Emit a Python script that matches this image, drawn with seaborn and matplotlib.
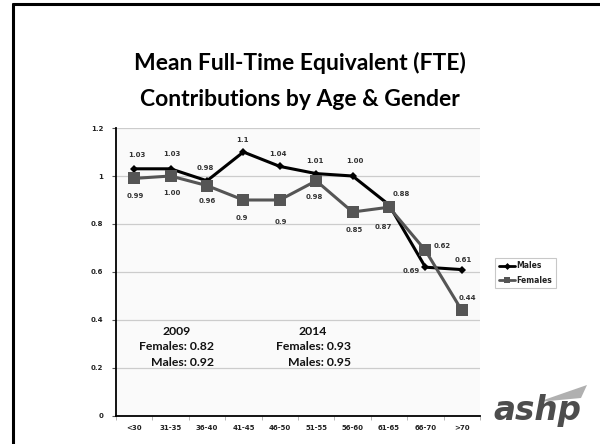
import matplotlib
matplotlib.use("Agg")
from matplotlib import pyplot as plt
from matplotlib.lines import Line2D
from matplotlib.patches import Polygon
import seaborn as sns
import pandas as pd

# data
age_groups = ["<30", "31-35", "36-40", "41-45", "46-50", "51-55", "56-60", "61-65", "66-70", ">70"]
males = [1.03, 1.03, 0.98, 1.10, 1.04, 1.01, 1.00, 0.88, 0.62, 0.61]
females = [0.99, 1.00, 0.96, 0.90, 0.90, 0.98, 0.85, 0.87, 0.69, 0.44]
male_labels = ["1.03", "1.03", "0.98", "1.1", "1.04", "1.01", "1.00", "0.88", "0.69", "0.61"]
female_labels = ["0.99", "1.00", "0.96", "0.9", "0.9", "0.98", "0.85", "0.87", "0.62", "0.44"]
title_lines = ["Mean Full-Time Equivalent (FTE)", "Contributions by Age & Gender"]
summary_2009 = ["2009", "Females: 0.82", "Males: 0.92"]
summary_2014 = ["2014", "Females: 0.93", "Males: 0.95"]

# label offsets (points), as placed in the original slide
male_off = [(2, 10), (1, 11), (-1, 9), (-1, 9), (-1, 9), (-1, 9), (2, 11), (9, 8), (-10, -3), (1, 7)]
female_off = [(1, -13), (1, -12), (0, -11), (-1, -13), (1, -16), (-1, -12), (1, -13), (-4, -14), (12, 3), (4, 9)]

df = pd.DataFrame({
    "age": age_groups * 2,
    "fte": males + females,
    "sex": ["Males"] * len(males) + ["Females"] * len(females),
})

sns.set_style("white")
fig = plt.figure(figsize=(6, 4.44), dpi=100)
ax = fig.add_axes([0.1933, 0.0631, 0.6067, 0.6486])
ax.set_facecolor("#fafafa")

sns.lineplot(data=df, x="age", y="fte", hue="sex", style="sex",
             palette={"Males": "#000000", "Females": "#555555"},
             markers={"Males": "D", "Females": "s"},
             dashes=False, linewidth=2.2, markeredgewidth=0,
             sort=False, ax=ax, legend=False)
for line, ms in zip(ax.lines, [4.5, 8]):
    line.set_markersize(ms)

ax.set_xlim(-0.5, len(age_groups) - 0.5)
ax.set_ylim(0, 1.2)
ax.set_yticks([0, 0.2, 0.4, 0.6, 0.8, 1.0, 1.2])
ax.set_yticklabels(["0", "0.2", "0.4", "0.6", "0.8", "1", "1.2"])
ax.set_xticks(range(len(age_groups)))
ax.set_xticklabels(age_groups)
ax.set_xticks([i + 0.5 for i in range(-1, len(age_groups))], minor=True)
ax.set_xlabel("")
ax.set_ylabel("")
ax.grid(axis="y", color="#cccccc", linewidth=0.9)
ax.set_axisbelow(True)
for s in ["top", "right"]:
    ax.spines[s].set_visible(False)
for s in ["left", "bottom"]:
    ax.spines[s].set_color("black")
    ax.spines[s].set_linewidth(1.3)
ax.tick_params(axis="y", left=True, length=3, width=0.8, color="#555555",
               labelsize=5, pad=6)
ax.tick_params(axis="x", which="major", bottom=False, labelsize=5, pad=3)
ax.tick_params(axis="x", which="minor", bottom=True, length=3, width=0.6, color="#aaaaaa")
for lab in ax.get_xticklabels() + ax.get_yticklabels():
    lab.set_fontweight("bold")
    lab.set_color("#222222")

for i, (v, t, off) in enumerate(zip(males, male_labels, male_off)):
    ax.annotate(t, (i, v), xytext=off, textcoords="offset points",
                ha="center", va="center", fontsize=5, fontweight="bold", color="#333333")
for i, (v, t, off) in enumerate(zip(females, female_labels, female_off)):
    ax.annotate(t, (i, v), xytext=off, textcoords="offset points",
                ha="center", va="center", fontsize=5, fontweight="bold", color="#333333")

# yearly summaries
for block, xr, xc in [(summary_2009, 214 / 600, 177 / 600), (summary_2014, 351 / 600, 313 / 600)]:
    fig.text(xc, 1 - 331 / 444, block[0], ha="center", va="center",
             fontsize=8.8, fontweight="bold", family="Lato", color="#111111")
    fig.text(xr, 1 - 346 / 444, block[1], ha="right", va="center",
             fontsize=8.8, fontweight="bold", family="Lato", color="#111111")
    fig.text(xr, 1 - 362 / 444, block[2], ha="right", va="center",
             fontsize=8.8, fontweight="bold", family="Lato", color="#111111")

# legend
handles = [Line2D([], [], color="#000000", lw=2, marker="D", ms=3.5, mew=0),
           Line2D([], [], color="#555555", lw=2, marker="s", ms=5, mew=0)]
leg = fig.legend(handles, ["Males", "Females"], loc="center left",
                 bbox_to_anchor=(491 / 600, 1 - 273 / 444), frameon=True,
                 fancybox=False, fontsize=5.5, handlelength=2.2, handletextpad=0.1,
                 borderpad=0.5, labelspacing=0.7)
leg.get_frame().set_edgecolor("#bbbbbb")
leg.get_frame().set_linewidth(0.8)
for t in leg.get_texts():
    t.set_fontweight("bold")
    t.set_color("#222222")

# title
fig.text(0.5, 1 - 63 / 444, title_lines[0], ha="center", va="center",
         fontsize=16.5, fontweight="bold", family="Lato", color="#000000")
fig.text(0.5, 1 - 100 / 444, title_lines[1], ha="center", va="center",
         fontsize=16.5, fontweight="bold", family="Lato", color="#000000")

# slide frame
fig.add_artist(Line2D([13 / 600, 13 / 600], [0, 1 - 4 / 444], color="black", lw=2.2))
fig.add_artist(Line2D([13 / 600, 1], [1 - 4 / 444, 1 - 4 / 444], color="black", lw=2.2))

# logo
fig.add_artist(Polygon([(538 / 600, 1 - 402 / 444), (587 / 600, 1 - 385 / 444),
                        (581 / 600, 1 - 398 / 444)], closed=True,
                       transform=fig.transFigure, facecolor="#b0b0b0", edgecolor="none"))
fig.text(537 / 600, 1 - 410 / 444, "ashp", ha="center", va="center", fontsize=23.5,
         fontweight="bold", style="italic", family="DejaVu Sans", color="#4d4d4d")

fig.savefig("out.png", dpi=100, facecolor="white")
